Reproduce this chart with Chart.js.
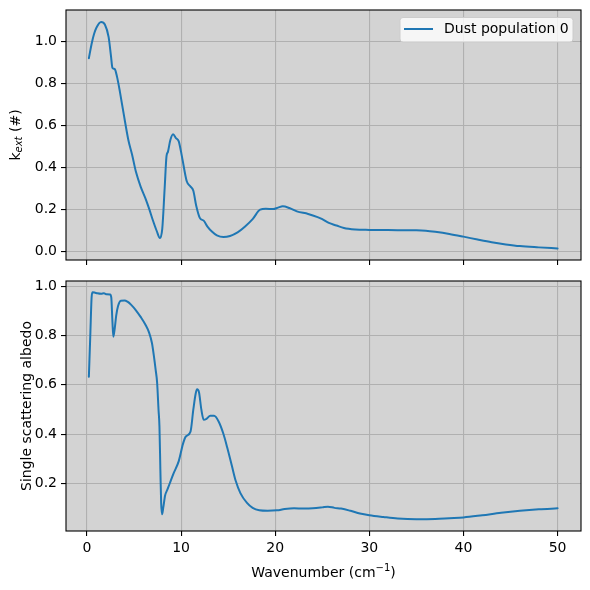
<!DOCTYPE html>
<html>
<head>
<meta charset="utf-8">
<script src="https://cdn.jsdelivr.net/npm/chart.js@4/dist/chart.umd.min.js"></script>
<style>
  html, body { margin: 0; padding: 0; background: #ffffff; }
  #wrap { position: relative; width: 590px; height: 590px; }
  canvas { position: absolute; left: 0; }
</style>
</head>
<body>
<div id="wrap">
  <canvas id="c1" width="590" height="272" style="top:0px"></canvas>
  <canvas id="c2" width="590" height="318" style="top:272px"></canvas>
</div>
<script>
// ---- data ----
const wavenumberK = [0.2,0.5,0.75,1.0,1.5,1.9,2.3,2.55,2.7,2.95,3.2,3.5,3.9,4.4,4.8,5.2,5.7,6.2,6.6,7.0,7.4,7.75,8.0,8.25,8.45,8.6,8.85,9.15,9.45,9.75,10.1,10.6,11.0,11.3,11.6,12.0,12.4,12.8,13.3,13.8,14.5,15.2,16.0,16.8,17.6,18.4,19.0,19.8,20.3,20.8,21.5,22.3,23.5,24.5,25.0,25.7,26.5,27.3,28.5,30,32,35,36,37,38.5,40,41.5,43,44.5,46,48,50];
const kext = [0.92,0.99,1.035,1.065,1.092,1.08,1.02,0.93,0.875,0.868,0.83,0.76,0.655,0.53,0.46,0.38,0.31,0.255,0.205,0.15,0.1,0.065,0.11,0.3,0.455,0.475,0.53,0.558,0.54,0.525,0.45,0.335,0.31,0.29,0.22,0.16,0.148,0.12,0.095,0.078,0.07,0.075,0.092,0.12,0.155,0.2,0.204,0.203,0.21,0.216,0.208,0.192,0.18,0.165,0.155,0.137,0.125,0.113,0.106,0.104,0.103,0.102,0.1,0.095,0.085,0.072,0.058,0.045,0.035,0.027,0.021,0.016];

const wavenumberA = [0.2,0.35,0.5,0.6,0.8,1.1,1.5,1.8,2.1,2.45,2.58,2.7,2.8,2.95,3.1,3.3,3.6,4.0,4.3,4.7,5.2,5.7,6.2,6.6,6.9,7.1,7.3,7.45,7.6,7.7,7.8,7.88,7.98,8.1,8.3,8.55,8.8,9.2,9.75,10.2,10.5,11.0,11.3,11.55,11.7,11.9,12.15,12.4,12.7,13.1,13.5,14.0,14.5,14.9,15.4,15.8,16.3,17.0,17.6,18.3,19.2,20.2,21.0,22.0,23.0,24.0,25.0,25.6,26.3,27.0,28.0,29.0,30.0,31.5,33.0,35.0,37.0,38.5,40.0,42.0,44.0,46.0,48.0,50.0];
const albedo = [0.633,0.8,0.96,0.976,0.975,0.972,0.97,0.972,0.968,0.967,0.955,0.86,0.795,0.83,0.88,0.92,0.942,0.943,0.938,0.925,0.903,0.876,0.845,0.812,0.77,0.72,0.66,0.61,0.5,0.43,0.25,0.12,0.074,0.1,0.15,0.175,0.2,0.24,0.29,0.36,0.39,0.41,0.5,0.565,0.582,0.57,0.5,0.458,0.462,0.474,0.474,0.45,0.4,0.345,0.27,0.21,0.16,0.12,0.1,0.09,0.088,0.09,0.095,0.098,0.097,0.098,0.102,0.105,0.1,0.097,0.088,0.077,0.07,0.063,0.057,0.054,0.055,0.058,0.061,0.07,0.08,0.088,0.094,0.098];

const xTicks = [0, 10, 20, 30, 40, 50];
const yTicksTop = [0.0, 0.2, 0.4, 0.6, 0.8, 1.0];
const yTicksBottom = [0.2, 0.4, 0.6, 0.8, 1.0];
const seriesLabel = 'Dust population 0';
const xTitle = 'Wavenumber (cm';
const yTitleBottom = 'Single scattering albedo';

// ---- styles ----
const LINE = '#1f77b4';
const FONT = 'DejaVu Sans';
const FS = 14;
Chart.defaults.font.family = FONT;
Chart.defaults.font.size = FS;
Chart.defaults.color = '#000';

function pts(xs, ys) { return xs.map((x, i) => ({ x: x, y: ys[i] })); }

const bgPlugin = {
  id: 'axesBg',
  beforeDraw(chart) {
    const a = chart.chartArea, ctx = chart.ctx;
    ctx.save();
    ctx.fillStyle = '#d3d3d3';
    ctx.fillRect(a.left, a.top, a.right - a.left, a.bottom - a.top);
    ctx.restore();
  },
  afterDraw(chart) {
    const a = chart.chartArea, ctx = chart.ctx;
    ctx.save();
    ctx.strokeStyle = '#000';
    ctx.lineWidth = 1.1;
    ctx.strokeRect(a.left, a.top, a.right - a.left, a.bottom - a.top);
    ctx.restore();
  }
};

function xScale(showLabels) {
  return {
    type: 'linear', min: -2.23, max: 52.49,
    afterBuildTicks: s => { s.ticks = xTicks.map(v => ({ value: v })); },
    afterFit: s => { s.height = showLabels ? 59 : 12; s.paddingLeft = 0; s.paddingRight = 0; },
    grid: { color: '#b0b0b0', lineWidth: 1.1, tickColor: '#000', tickLength: 5, tickWidth: 1.1, drawOnChartArea: true },
    border: { display: false },
    ticks: { display: showLabels, padding: 4, color: '#000', maxRotation: 0, callback: v => String(v) }
  };
}
function yScale(min, max, ticks) {
  return {
    type: 'linear', min: min, max: max,
    afterBuildTicks: s => { s.ticks = ticks.map(v => ({ value: v })); },
    afterFit: s => { s.width = 66; s.paddingTop = 0; s.paddingBottom = 0; },
    grid: { color: '#b0b0b0', lineWidth: 1.1, tickColor: '#000', tickLength: 5, tickWidth: 1.1 },
    border: { display: false },
    ticks: { padding: 4, color: '#000', callback: v => Number(v).toFixed(1) }
  };
}
function dataset(xs, ys) {
  return {
    label: seriesLabel,
    data: pts(xs, ys),
    borderColor: LINE, backgroundColor: LINE,
    borderWidth: 2, pointRadius: 0, fill: false,
    cubicInterpolationMode: 'monotone'
  };
}

// top chart extras: rotated y title with subscript, legend
const topExtras = {
  id: 'topExtras',
  afterDraw(chart) {
    const ctx = chart.ctx, a = chart.chartArea;
    ctx.save();
    const cy = (a.top + a.bottom) / 2;
    ctx.translate(16, cy);
    ctx.rotate(-Math.PI / 2);
    ctx.fillStyle = '#000';
    ctx.textBaseline = 'middle';
    const f1 = FS + 'px "' + FONT + '"';
    const f2 = 'italic ' + Math.round(FS * 0.7) + 'px "' + FONT + '"';
    ctx.font = f1; const w1 = ctx.measureText('k').width; const w3 = ctx.measureText(' (#)').width;
    ctx.font = f2; const w2 = ctx.measureText('ext').width;
    let x0 = -(w1 + w2 + w3) / 2;
    ctx.font = f1; ctx.textAlign = 'left'; ctx.fillText('k', x0, 0);
    ctx.font = f2; ctx.fillText('ext', x0 + w1, 3);
    ctx.font = f1; ctx.fillText(' (#)', x0 + w1 + w2, 0);
    ctx.restore();

    // legend box
    ctx.save();
    const lx = 400, ly = 17.5, lw = 173, lh = 24.5, r = 3;
    ctx.beginPath();
    ctx.moveTo(lx + r, ly);
    ctx.lineTo(lx + lw - r, ly); ctx.quadraticCurveTo(lx + lw, ly, lx + lw, ly + r);
    ctx.lineTo(lx + lw, ly + lh - r); ctx.quadraticCurveTo(lx + lw, ly + lh, lx + lw - r, ly + lh);
    ctx.lineTo(lx + r, ly + lh); ctx.quadraticCurveTo(lx, ly + lh, lx, ly + lh - r);
    ctx.lineTo(lx, ly + r); ctx.quadraticCurveTo(lx, ly, lx + r, ly);
    ctx.closePath();
    ctx.fillStyle = 'rgba(255,255,255,0.8)';
    ctx.fill();
    ctx.strokeStyle = '#cccccc'; ctx.lineWidth = 1;
    ctx.stroke();
    ctx.beginPath();
    ctx.moveTo(404, 29); ctx.lineTo(433, 29);
    ctx.strokeStyle = LINE; ctx.lineWidth = 2; ctx.stroke();
    ctx.fillStyle = '#000';
    ctx.font = FS + 'px "' + FONT + '"';
    ctx.textBaseline = 'middle'; ctx.textAlign = 'left';
    ctx.fillText(seriesLabel, 444, 29.5);
    ctx.restore();
  }
};

const bottomExtras = {
  id: 'bottomExtras',
  afterDraw(chart) {
    const ctx = chart.ctx, a = chart.chartArea;
    ctx.save();
    ctx.fillStyle = '#000';
    ctx.textBaseline = 'middle';
    ctx.save();
    ctx.translate(27, (a.top + a.bottom) / 2);
    ctx.rotate(-Math.PI / 2);
    ctx.textAlign = 'center';
    ctx.font = FS + 'px "' + FONT + '"';
    ctx.fillText(yTitleBottom, 0, 0);
    ctx.restore();
    const f1 = FS + 'px "' + FONT + '"';
    const f2 = Math.round(FS * 0.7) + 'px "' + FONT + '"';
    ctx.font = f1; const w1 = ctx.measureText(xTitle).width; const w3 = ctx.measureText(')').width;
    ctx.font = f2; const w2 = ctx.measureText('\u22121').width;
    const cx = (a.left + a.right) / 2, ty = 301;
    let x0 = cx - (w1 + w2 + w3) / 2;
    ctx.textAlign = 'left';
    ctx.font = f1; ctx.fillText(xTitle, x0, ty);
    ctx.font = f2; ctx.fillText('\u22121', x0 + w1, ty - 5);
    ctx.font = f1; ctx.fillText(')', x0 + w1 + w2, ty);
    ctx.restore();
  }
};

const common = {
  responsive: false, animation: false, devicePixelRatio: 1,
  plugins: { legend: { display: false }, tooltip: { enabled: false } },
  elements: { line: { borderJoinStyle: 'round', borderCapStyle: 'round' } }
};

new Chart(document.getElementById('c1'), {
  type: 'line',
  data: { datasets: [dataset(wavenumberK, kext)] },
  options: Object.assign({}, common, {
    layout: { padding: { top: 10, right: 9, left: 0, bottom: 0 } },
    scales: { x: xScale(false), y: yScale(-0.039, 1.149, yTicksTop) }
  }),
  plugins: [bgPlugin, topExtras]
});

new Chart(document.getElementById('c2'), {
  type: 'line',
  data: { datasets: [dataset(wavenumberA, albedo)] },
  options: Object.assign({}, common, {
    layout: { padding: { top: 9, right: 9, left: 0, bottom: 0 } },
    scales: { x: xScale(true), y: yScale(0.006, 1.022, yTicksBottom) }
  }),
  plugins: [bgPlugin, bottomExtras]
});
</script>
</body>
</html>
